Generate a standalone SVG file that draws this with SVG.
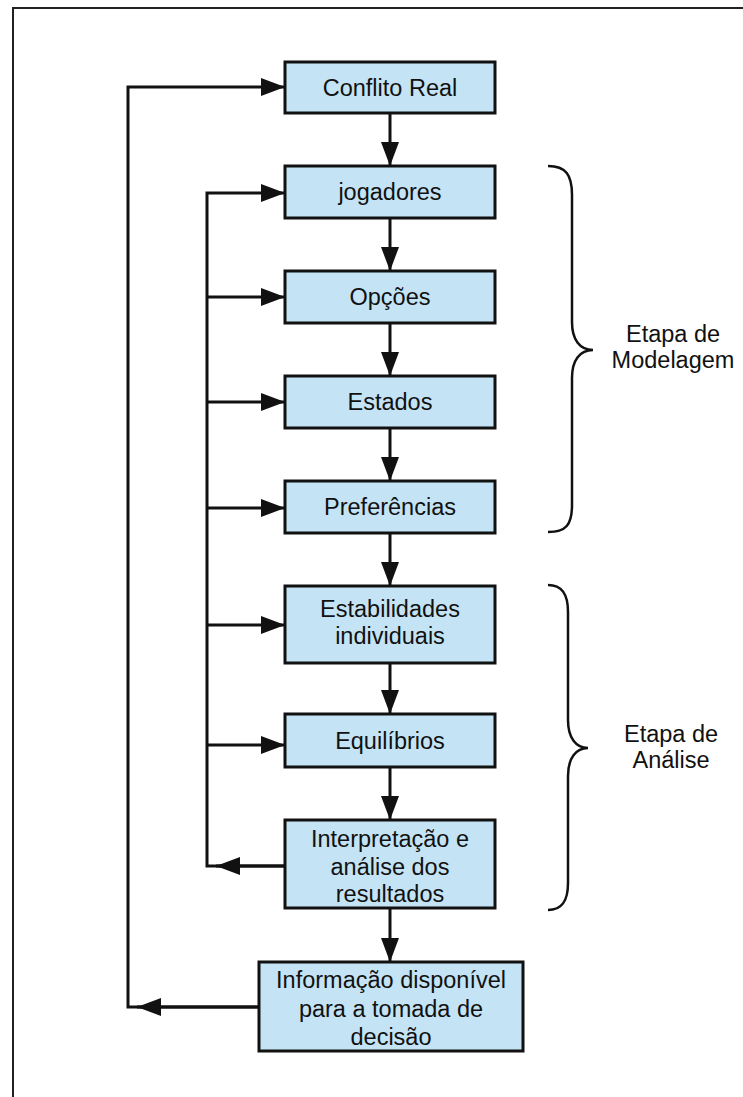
<svg xmlns="http://www.w3.org/2000/svg" width="743" height="1097" viewBox="0 0 743 1097">
<style>
.box{fill:#c4e4f6;stroke:#111;stroke-width:3}
.t{font-family:"Liberation Sans",Arial,sans-serif;font-size:23.5px;fill:#111;text-anchor:middle}
.c{fill:none;stroke:#111;stroke-width:3}
.br{fill:none;stroke:#111;stroke-width:2.5}
</style>
<defs>
<marker id="ah" markerUnits="userSpaceOnUse" markerWidth="24" markerHeight="18" refX="24" refY="9" orient="auto">
<path d="M0,0 L24,9 L0,18 z" fill="#111"/>
</marker>
</defs>
<rect width="743" height="1097" fill="#fff"/>
<path d="M13,1097 V8 H743" fill="none" stroke="#222" stroke-width="2"/>
<g id="connectors">
<path class="c" d="M390,113 V166" marker-end="url(#ah)"/>
<path class="c" d="M390,218 V271" marker-end="url(#ah)"/>
<path class="c" d="M390,323 V376" marker-end="url(#ah)"/>
<path class="c" d="M390,428 V481" marker-end="url(#ah)"/>
<path class="c" d="M390,533 V586" marker-end="url(#ah)"/>
<path class="c" d="M390,663 V714" marker-end="url(#ah)"/>
<path class="c" d="M390,767 V820" marker-end="url(#ah)"/>
<path class="c" d="M390,908 V962" marker-end="url(#ah)"/>
<path class="c" d="M285,866 H207 V193 H285" marker-end="url(#ah)"/>
<path class="c" d="M285,866 H216" marker-end="url(#ah)"/>
<path class="c" d="M207,297 H285" marker-end="url(#ah)"/>
<path class="c" d="M207,402 H285" marker-end="url(#ah)"/>
<path class="c" d="M207,508 H285" marker-end="url(#ah)"/>
<path class="c" d="M207,625 H285" marker-end="url(#ah)"/>
<path class="c" d="M207,745 H285" marker-end="url(#ah)"/>
<path class="c" d="M259,1007 H128 V87 H285" marker-end="url(#ah)"/>
<path class="c" d="M259,1007 H137" marker-end="url(#ah)"/>
</g>
<g id="conflito"><rect class="box" x="285" y="62" width="210" height="51"/><text class="t" x="390" y="96">Conflito Real</text></g>
<g id="jogadores"><rect class="box" x="285" y="166" width="210" height="52"/><text class="t" x="390" y="200">jogadores</text></g>
<g id="opcoes"><rect class="box" x="285" y="271" width="210" height="52"/><text class="t" x="390" y="305">Opções</text></g>
<g id="estados"><rect class="box" x="285" y="376" width="210" height="52"/><text class="t" x="390" y="410">Estados</text></g>
<g id="preferencias"><rect class="box" x="285" y="481" width="210" height="52"/><text class="t" x="390" y="515">Preferências</text></g>
<g id="estabilidades"><rect class="box" x="285" y="586" width="210" height="77"/><text class="t" x="390" y="617">Estabilidades</text><text class="t" x="390" y="644">individuais</text></g>
<g id="equilibrios"><rect class="box" x="285" y="714" width="210" height="53"/><text class="t" x="390" y="749">Equilíbrios</text></g>
<g id="interpretacao"><rect class="box" x="285" y="820" width="210" height="88"/><text class="t" x="390" y="847">Interpretação e</text><text class="t" x="390" y="875">análise dos</text><text class="t" x="390" y="902">resultados</text></g>
<g id="informacao"><rect class="box" x="259" y="962" width="264" height="89"/><text class="t" x="391" y="988">Informação disponível</text><text class="t" x="391" y="1017">para a tomada de</text><text class="t" x="391" y="1045">decisão</text></g>
<g id="etapa-modelagem">
<path class="br" d="M548,166 C566,166 572,175 572,195 V322 C572,340 580,350 593,350 C580,350 572,360 572,378 V505 C572,525 566,532 548,532"/>
<text class="t" x="673" y="342">Etapa de</text><text class="t" x="673" y="368">Modelagem</text>
</g>
<g id="etapa-analise">
<path class="br" d="M548,585 C562,585 568,594 568,612 V720 C568,738 576,748 588,748 C576,748 568,758 568,776 V883 C568,901 562,910 548,910"/>
<text class="t" x="671" y="742">Etapa de</text><text class="t" x="671" y="768">Análise</text>
</g>
</svg>
